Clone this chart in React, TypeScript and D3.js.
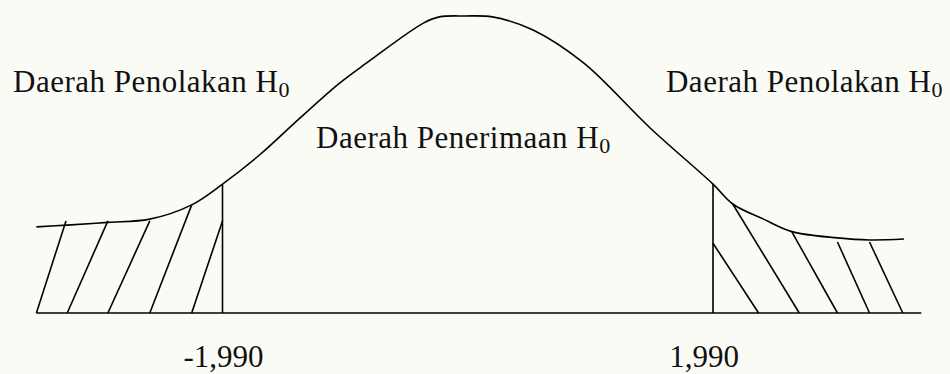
import React from "react";
import * as d3 from "d3";

// Hand-drawn normal curve: z position and relative height (peak = 1)
const curveZ = [-3.5, -3.25, -2.92, -2.58, -2.24, -1.99, -1.69, -1.36, -1.04, -0.82, -0.36, -0.23, -0.02, 0.2, 0.53, 0.94, 1.48, 1.99, 2.15, 2.40, 2.63, 3.0, 3.26, 3.54];
const curveH = [0.29, 0.296, 0.305, 0.316, 0.364, 0.434, 0.532, 0.657, 0.774, 0.842, 0.976, 0.997, 1.0, 0.997, 0.953, 0.842, 0.623, 0.434, 0.367, 0.316, 0.274, 0.253, 0.246, 0.249];

const criticalValues = [-1.99, 1.99];
const criticalLabels = ["-1,990", "1,990"];
const criticalHeights = [0.434, 0.434];

const baseDomain = [-3.5, 3.68];

// Hatch strokes: bottom z, top z, top height
const hatchBottom = [-3.5, -3.25, -2.92, -2.58, -2.24, 2.36, 2.69, 3.0, 3.26, 3.53];
const hatchTopZ = [-3.26, -2.92, -2.58, -2.24, -1.99, 1.99, 2.15, 2.63, 3.0, 3.26];
const hatchTopH = [0.31, 0.31, 0.31, 0.364, 0.31, 0.235, 0.367, 0.273, 0.239, 0.239];

const regionLabels = ["Daerah Penolakan H", "Daerah Penerimaan H", "Daerah Penolakan H"];
const subscript = "0";

const W = 950;
const H = 374;

export default function App() {
  const x = d3.scaleLinear().domain([-1.99, 1.99]).range([222.5, 713]);
  const y = d3.scaleLinear().domain([0, 1]).range([313, 16]);

  const pts: [number, number][] = curveZ.map((z, i) => [x(z), y(curveH[i])]);
  const curvePath = d3.line().curve(d3.curveCatmullRom.alpha(0.5))(pts) || "";

  const font = "'Liberation Serif', 'Times New Roman', serif";
  const fs = 31;
  const stroke = "#000";
  const sw = 1.6;

  const labelPos = [
    { x: 13, y: 92, anchor: "start" },
    { x: 316, y: 148, anchor: "start" },
    { x: 943, y: 92, anchor: "end" },
  ];

  return (
    <svg
      width={W}
      height={H}
      style={{ position: "absolute", left: 0, top: 0, background: "#fbfbf6" }}
    >
      <rect x={0} y={0} width={W} height={H} fill="#fbfbf6" />
      {/* baseline */}
      <line x1={x(baseDomain[0])} x2={x(baseDomain[1])} y1={y(0)} y2={y(0)} stroke={stroke} strokeWidth={sw} />
      {/* curve */}
      <path d={curvePath} fill="none" stroke={stroke} strokeWidth={sw} />
      {/* critical verticals */}
      {criticalValues.map((c, i) => (
        <line key={"v" + i} x1={x(c)} x2={x(c)} y1={y(0)} y2={y(criticalHeights[i])} stroke={stroke} strokeWidth={sw} />
      ))}
      {/* hatching */}
      {hatchBottom.map((b, i) => (
        <line key={"h" + i} x1={x(b)} y1={y(0)} x2={x(hatchTopZ[i])} y2={y(hatchTopH[i])} stroke={stroke} strokeWidth={sw} />
      ))}
      {/* region labels */}
      {regionLabels.map((t, i) => (
        <text key={"l" + i} x={labelPos[i].x} y={labelPos[i].y} textAnchor={labelPos[i].anchor as any} fontFamily={font} fontSize={fs} letterSpacing={0.5} fill="#111">
          {t}
          <tspan fontSize={22} dy={5}>{subscript}</tspan>
        </text>
      ))}
      {/* critical value labels */}
      {criticalValues.map((c, i) => (
        <text key={"c" + i} x={x(c) + (i === 0 ? 1 : -9)} y={367} textAnchor="middle" fontFamily={font} fontSize={fs} fill="#111">
          {criticalLabels[i]}
        </text>
      ))}
    </svg>
  );
}
